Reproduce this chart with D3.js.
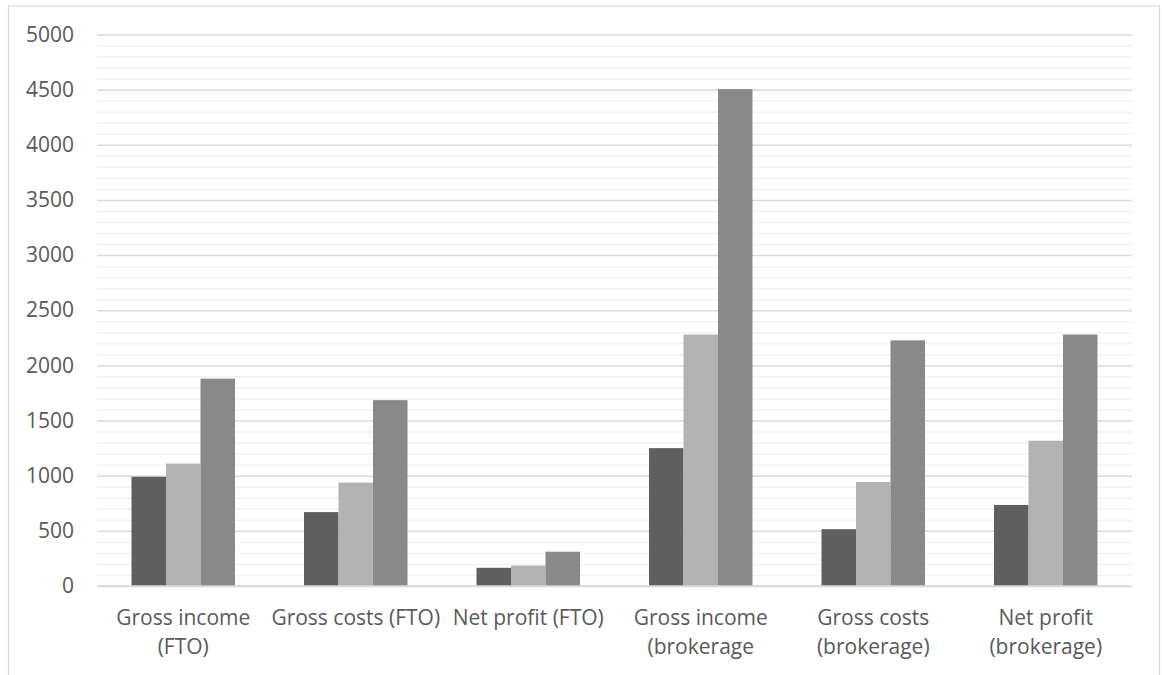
<!DOCTYPE html>
<html>
<head>
<meta charset="utf-8">
<script src="https://cdn.jsdelivr.net/npm/d3@7"></script>
<style>
  html, body { margin: 0; padding: 0; background: #fff; }
  svg { display: block; }
  text { font-family: "Open Sans", "DejaVu Sans", sans-serif; fill: #595959; }
</style>
</head>
<body>
<svg id="chart" width="1162" height="675"></svg>
<script>
// ---- data ----
const categories = [
  "Gross income (FTO)", "Gross costs (FTO)", "Net profit (FTO)",
  "Gross income (brokerage", "Gross costs (brokerage)", "Net profit (brokerage)"
];
const categoryLines = [
  ["Gross income", "(FTO)"],
  ["Gross costs (FTO)"],
  ["Net profit (FTO)"],
  ["Gross income", "(brokerage"],
  ["Gross costs", "(brokerage)"],
  ["Net profit", "(brokerage)"]
];
const seriesNames = ["Series 1", "Series 2", "Series 3"];
const series1 = [990, 670, 165, 1250, 515, 735];
const series2 = [1110, 937, 185, 2280, 943, 1317];
const series3 = [1880, 1685, 311, 4505, 2227, 2280];
const seriesColors = ["#5f5f5f", "#b2b2b2", "#898989"];
const yTicks = [0, 500, 1000, 1500, 2000, 2500, 3000, 3500, 4000, 4500, 5000];
const yMinorTicks = d3.range(0, 5001, 100);

const allSeries = [series1, series2, series3];

// ---- layout ----
const svg = d3.select("#chart");
const plot = { left: 97, right: 1132, top: 34.5, bottom: 586 };

// outer chart border
svg.append("rect")
  .attr("x", 8.5).attr("y", 6)
  .attr("width", 1151).attr("height", 720)
  .attr("fill", "none").attr("stroke", "#d9d9d9").attr("stroke-width", 1.3);

const x0 = d3.scaleBand().domain(categories).range([plot.left, plot.right]).padding(0);
const x1 = d3.scaleBand().domain(seriesNames)
  .range([x0.bandwidth() * 0.2, x0.bandwidth() * 0.8]).padding(0);
const y = d3.scaleLinear().domain([0, 5000]).range([plot.bottom, plot.top]);

// minor gridlines
svg.append("g")
  .attr("transform", `translate(${plot.left},0)`)
  .call(d3.axisLeft(y).tickValues(yMinorTicks.filter(v => v % 500 !== 0))
    .tickSize(-(plot.right - plot.left)).tickFormat(""))
  .call(g => g.select(".domain").remove())
  .call(g => g.selectAll("line").attr("stroke", "#f2f2f2").attr("stroke-width", 1.5));

// major gridlines + labels
svg.append("g")
  .attr("transform", `translate(${plot.left},0)`)
  .call(d3.axisLeft(y).tickValues(yTicks)
    .tickSize(-(plot.right - plot.left)).tickPadding(23).tickFormat(d3.format("d")))
  .call(g => g.select(".domain").remove())
  .call(g => g.selectAll("line").attr("stroke", "#d9d9d9").attr("stroke-width", 1.5))
  .call(g => g.selectAll("text")
    .attr("fill", "#595959")
    .style("font-size", "21px")
    .style("font-family", "'Open Sans', sans-serif"));

// bars
const groups = svg.append("g").selectAll("g")
  .data(categories)
  .join("g")
  .attr("transform", d => `translate(${x0(d)},0)`);

groups.selectAll("rect")
  .data((d, i) => allSeries.map((s, k) => ({ name: seriesNames[k], value: s[i], color: seriesColors[k] })))
  .join("rect")
  .attr("x", d => x1(d.name))
  .attr("width", x1.bandwidth())
  .attr("y", d => y(d.value))
  .attr("height", d => y(0) - y(d.value))
  .attr("fill", d => d.color);

// baseline
svg.append("line")
  .attr("x1", plot.left).attr("x2", plot.right)
  .attr("y1", y(0)).attr("y2", y(0))
  .attr("stroke", "#d9d9d9").attr("stroke-width", 1.5);

// category labels
const labels = svg.append("g").selectAll("text")
  .data(categories)
  .join("text")
  .attr("text-anchor", "middle")
  .attr("x", d => x0(d) + x0.bandwidth() / 2)
  .attr("y", 625)
  .style("font-size", "21px");

labels.each(function(d, i) {
  const t = d3.select(this);
  categoryLines[i].forEach((line, j) => {
    t.append("tspan")
      .attr("x", x0(d) + x0.bandwidth() / 2)
      .attr("y", 625 + j * 29)
      .text(line);
  });
});
</script>
</body>
</html>
